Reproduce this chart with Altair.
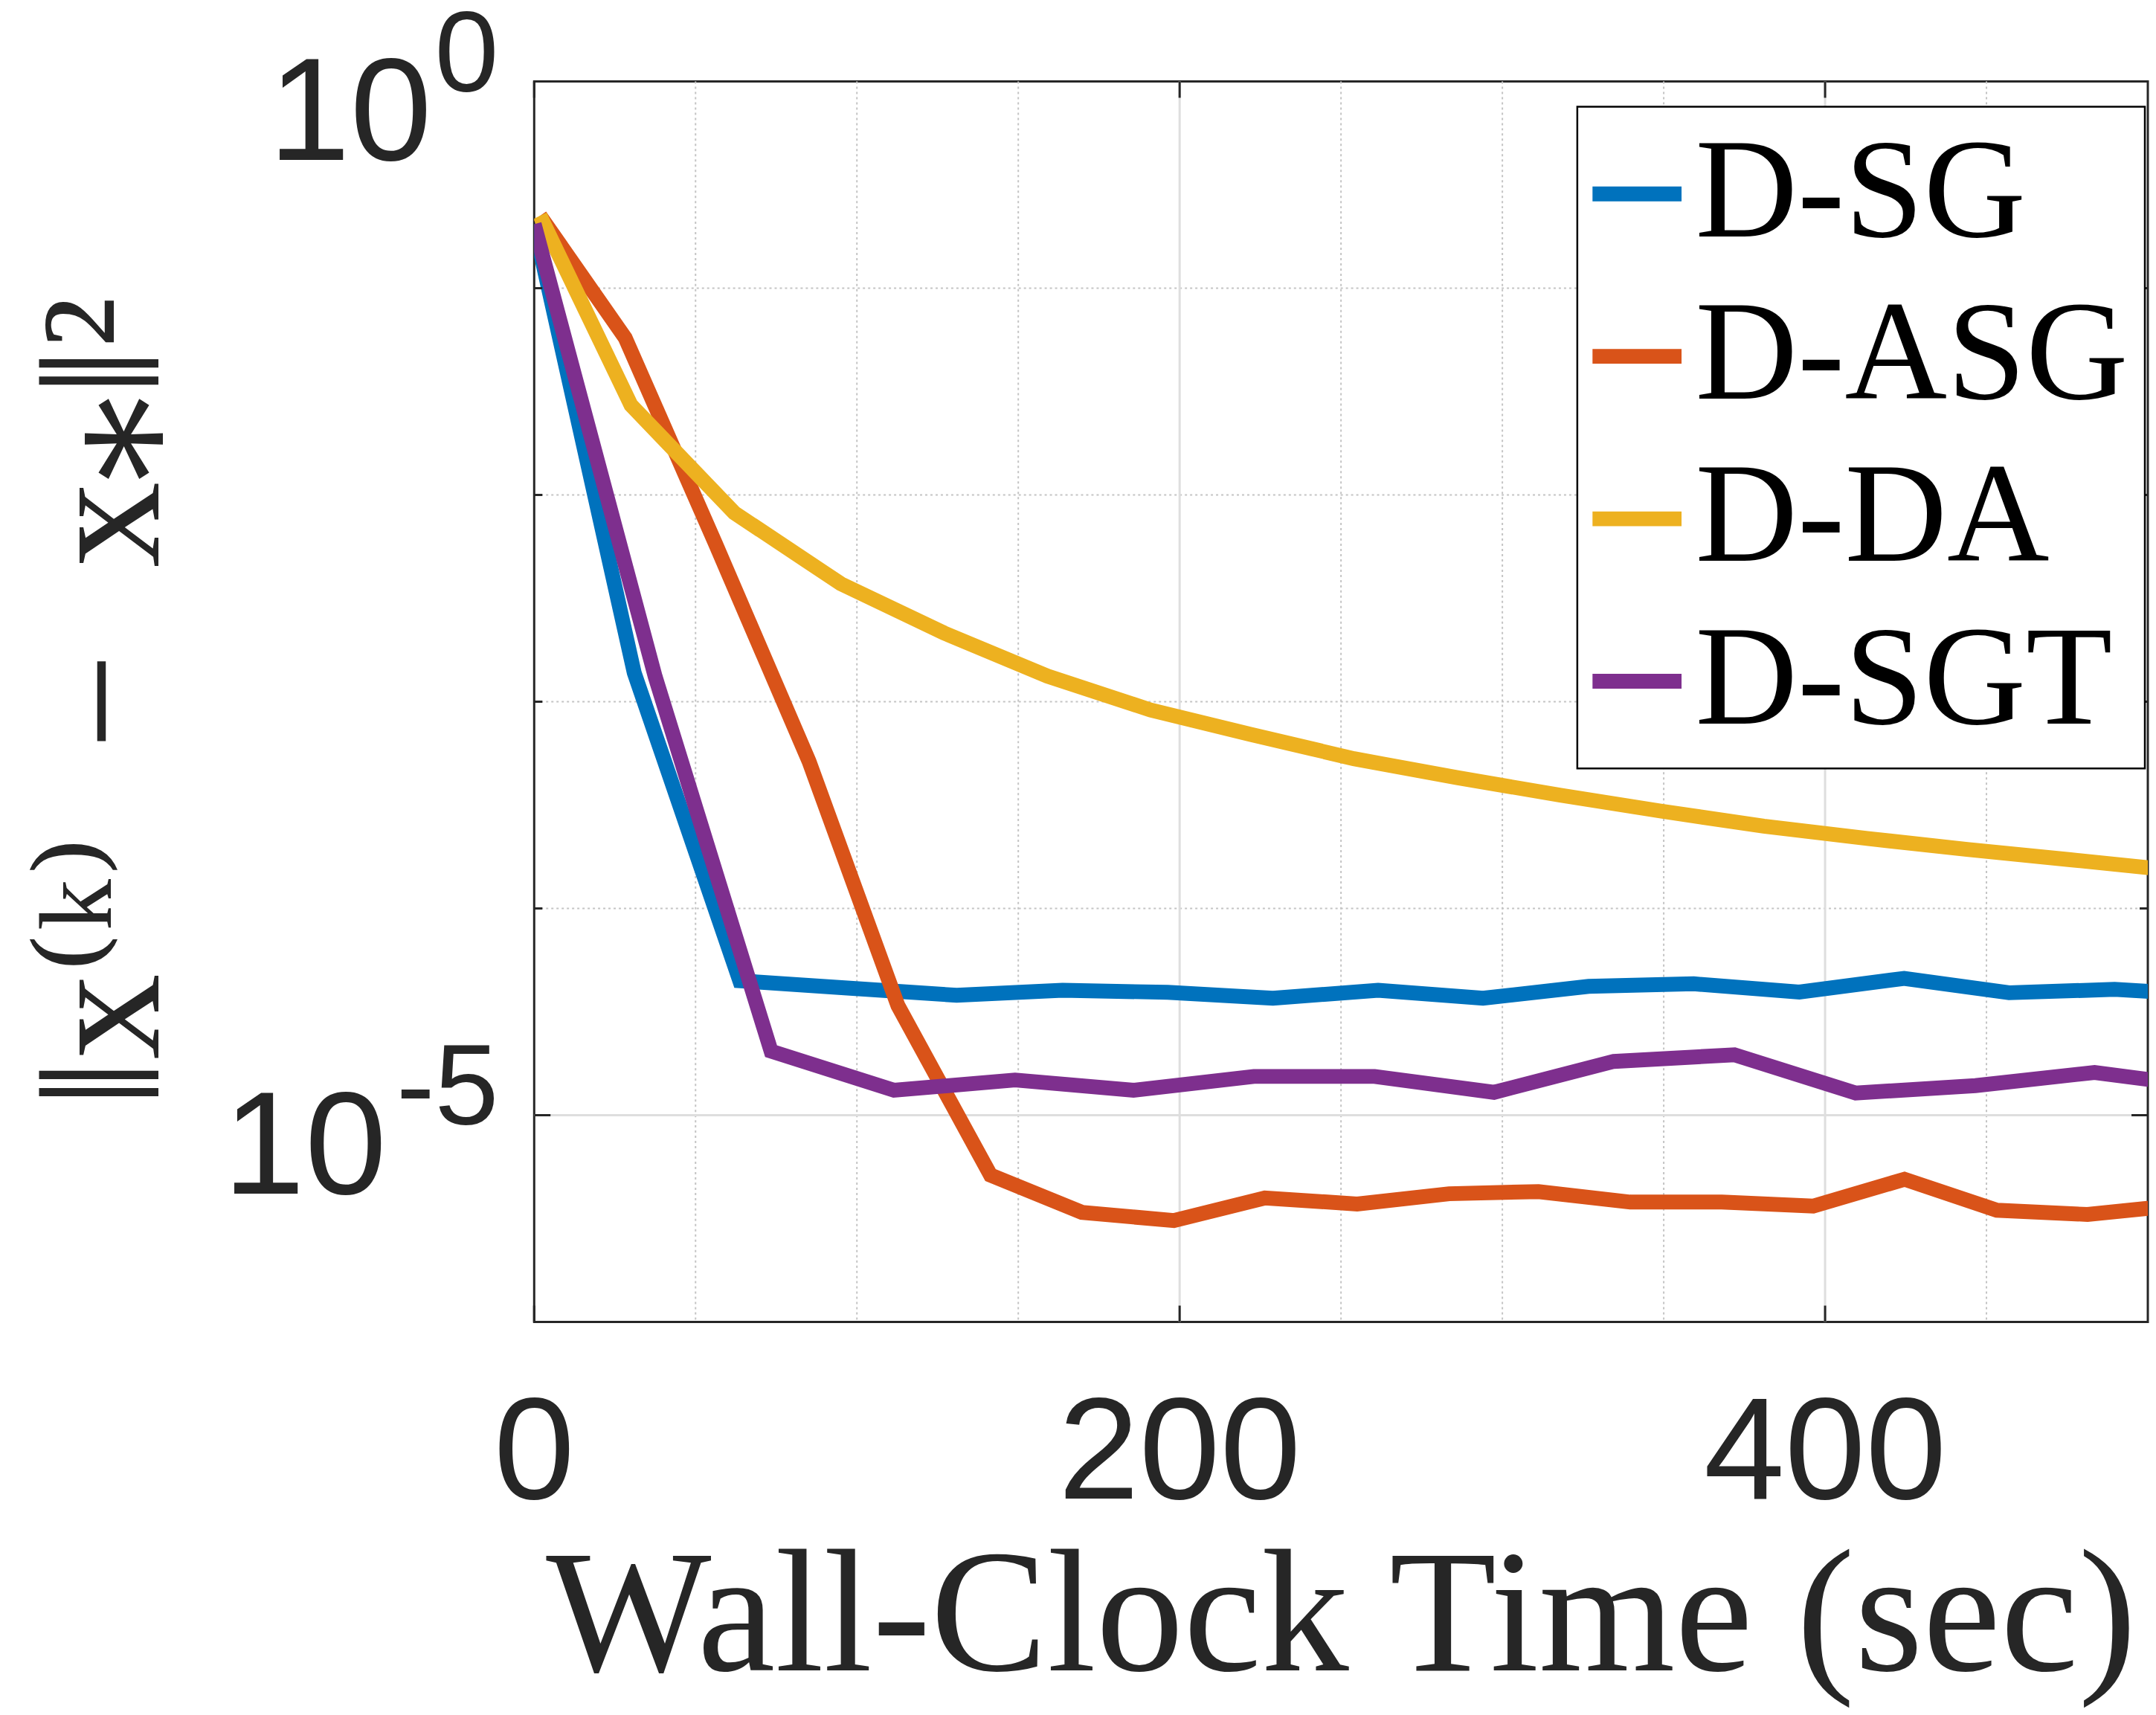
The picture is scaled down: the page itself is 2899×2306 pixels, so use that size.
import altair as alt
import pandas as pd

# ---------------- data ----------------
methods = ["D-SG", "D-ASG", "D-DA", "D-SGT"]
colors = ["#0072BD", "#D95319", "#EDB120", "#7E2F8E"]

sg_t = [0, 31, 63.7, 97, 130.9, 163.7, 196.3, 228.9, 261.5, 294, 326.7, 359.3, 392, 424.5, 457, 489.7, 522]
sg_err = [0.204, 1.38e-3, 4.47e-5, 4.12e-5, 3.80e-5, 4.02e-5, 3.93e-5, 3.68e-5, 4.02e-5, 3.68e-5,
          4.20e-5, 4.32e-5, 3.94e-5, 4.59e-5, 3.91e-5, 4.06e-5, 3.80e-5]

asg_t = [1.8, 28.2, 56.3, 85.2, 112.7, 141.4, 169.7, 198.2, 226.4, 255, 283.5, 311.2, 339.6, 368,
         396.3, 424.6, 453.2, 481.3, 509.5]
asg_err = [0.224, 5.75e-2, 5.75e-3, 5.13e-4, 3.39e-5, 5.13e-6, 3.39e-6, 3.09e-6, 3.98e-6, 3.72e-6,
           4.17e-6, 4.27e-6, 3.80e-6, 3.80e-6, 3.63e-6, 4.90e-6, 3.47e-6, 3.31e-6, 3.67e-6]

da_t = [1.8, 30, 62, 95, 127, 159, 191, 222, 254, 286, 318, 349, 381, 413, 444, 476, 508]
da_err = [0.224, 2.72e-2, 8.20e-3, 3.72e-3, 2.15e-3, 1.33e-3, 9.12e-4, 6.95e-4, 5.30e-4, 4.29e-4,
          3.53e-4, 2.96e-4, 2.50e-4, 2.18e-4, 1.93e-4, 1.72e-4, 1.53e-4]

sgt_t = [0, 37.5, 73.4, 111.5, 149, 185.7, 223, 260.4, 297.4, 334.5, 371.9, 409.5, 446.6, 483.5, 521]
sgt_err = [0.204, 1.32e-3, 2.04e-5, 1.32e-5, 1.48e-5, 1.32e-5, 1.54e-5, 1.54e-5, 1.29e-5, 1.82e-5,
           1.96e-5, 1.28e-5, 1.39e-5, 1.61e-5, 1.35e-5]

x_label_values = [0, 200, 400]
x_label_text = ["0", "200", "400"]
x_major_grid = [200, 400]
x_minor_grid = [50, 100, 150, 250, 300, 350, 450]
y_major_ticks = [1.0, 1e-5]
y_minor_ticks = [1e-1, 1e-2, 1e-3, 1e-4]
y_major_grid = [1e-5]
y_tick_base = ["10", "10"]
y_tick_exp = ["0", "-5"]

x_title = "Wall-Clock Time (sec)"
y_title = "\u2016x\u207d\u1d4f\u207e\u2002\u2212\u2002x\u204e\u2016\u00b2"

# ---------------- layout / style ----------------
W, H = 2175, 1672
AX = "#262626"
SANS = "Liberation Sans, Arial, DejaVu Sans"
SERIF = "Liberation Serif, Times New Roman, DejaVu Serif"

xs = alt.Scale(domain=[0, 500], nice=False, zero=False)
ys = alt.Scale(type="log", domain=[1e-6, 1], nice=False)

x_axis = alt.Axis(labels=False, ticks=False, domain=False, grid=False,
                  title=x_title, titleFont=SERIF, titleFontSize=236, titleFontWeight="normal",
                  titleColor=AX, titlePadding=283)
y_axis = alt.Axis(labels=False, ticks=False, domain=False, grid=False,
                  title=y_title, titleFont=SERIF, titleFontSize=231, titleFontWeight="normal",
                  titleColor=AX, titlePadding=458)


def X(f):
    return alt.X(f, type="quantitative", scale=xs, axis=x_axis)


def Y(f):
    return alt.Y(f, type="quantitative", scale=ys, axis=y_axis)


legend = alt.Legend(title=None, orient="none", legendX=1406, legendY=34, direction="vertical",
                    symbolType="stroke", symbolSize=14400, symbolStrokeWidth=20,
                    symbolOffset=alt.ExprRef("-37"),
                    labelFont=SERIF, labelFontSize=191, labelColor="black", labelLimit=3000,
                    labelOffset=alt.ExprRef("-17"), rowPadding=27, padding=22,
                    strokeColor="black", fillColor="white")
color = alt.Color("method:N", scale=alt.Scale(domain=methods, range=colors), legend=legend)

layers = []

# grid
layers.append(alt.Chart(pd.DataFrame({"t": x_minor_grid})).mark_rule(
    color="#c4c4c4", strokeWidth=2, strokeDash=[3, 4]).encode(x=X("t")))
layers.append(alt.Chart(pd.DataFrame({"v": y_minor_ticks})).mark_rule(
    color="#c4c4c4", strokeWidth=2, strokeDash=[3, 4]).encode(y=Y("v")))
layers.append(alt.Chart(pd.DataFrame({"t": x_major_grid})).mark_rule(
    color="#dedede", strokeWidth=3).encode(x=X("t")))
layers.append(alt.Chart(pd.DataFrame({"v": y_major_grid})).mark_rule(
    color="#dedede", strokeWidth=3).encode(y=Y("v")))

# series (drawn in MATLAB order)
for name, t, e in [("D-SG", sg_t, sg_err), ("D-ASG", asg_t, asg_err),
                   ("D-DA", da_t, da_err), ("D-SGT", sgt_t, sgt_err)]:
    df = pd.DataFrame({"t": t, "err": e, "method": name})
    layers.append(alt.Chart(df).mark_line(strokeWidth=20, clip=True).encode(
        x=X("t"), y=Y("err"), color=color))

# inward ticks
xt = pd.DataFrame({"t": x_label_values, "lab": x_label_text})
layers.append(alt.Chart(xt).mark_rule(color=AX, strokeWidth=3).encode(
    x=X("t"), y=alt.value(H), y2=alt.value(H - 22)))
layers.append(alt.Chart(xt).mark_rule(color=AX, strokeWidth=3).encode(
    x=X("t"), y=alt.value(0), y2=alt.value(22)))
for vals, ln in [(y_major_ticks, 22), (y_minor_ticks, 11)]:
    yt = pd.DataFrame({"v": vals})
    layers.append(alt.Chart(yt).mark_rule(color=AX, strokeWidth=3).encode(
        y=Y("v"), x=alt.value(0), x2=alt.value(ln)))
    layers.append(alt.Chart(yt).mark_rule(color=AX, strokeWidth=3).encode(
        y=Y("v"), x=alt.value(W), x2=alt.value(W - ln)))

# x tick labels
layers.append(alt.Chart(xt).mark_text(
    align="center", baseline="top", font=SANS, fontSize=196, color=AX).encode(
    x=X("t"), y=alt.value(H + 83), text="lab:N"))

# y tick labels 10^k
lab = pd.DataFrame({"v": y_major_ticks, "base": y_tick_base, "exp": y_tick_exp})
layers.append(alt.Chart(lab).transform_filter("datum.v > 0.5").mark_text(
    align="right", baseline="middle", font=SANS, fontSize=198, color=AX, dy=47).encode(
    y=Y("v"), x=alt.value(-138), text="base:N"))
layers.append(alt.Chart(lab).transform_filter("datum.v < 0.5").mark_text(
    align="right", baseline="middle", font=SANS, fontSize=198, color=AX, dy=47).encode(
    y=Y("v"), x=alt.value(-199), text="base:N"))
layers.append(alt.Chart(lab).mark_text(
    align="right", baseline="middle", font=SANS, fontSize=155, color=AX, dy=-34).encode(
    y=Y("v"), x=alt.value(-48), text="exp:N"))

chart = alt.layer(*layers).properties(
    width=W, height=H,
    padding={"left": 712, "top": 99, "right": 3, "bottom": 518},
    autosize=alt.AutoSizeParams(type="none"),
    background="white",
).configure_view(stroke=AX, strokeWidth=3).configure_legend(strokeWidth=2.5)

chart.save("out.html", embed_options={"renderer": "svg", "actions": False})
